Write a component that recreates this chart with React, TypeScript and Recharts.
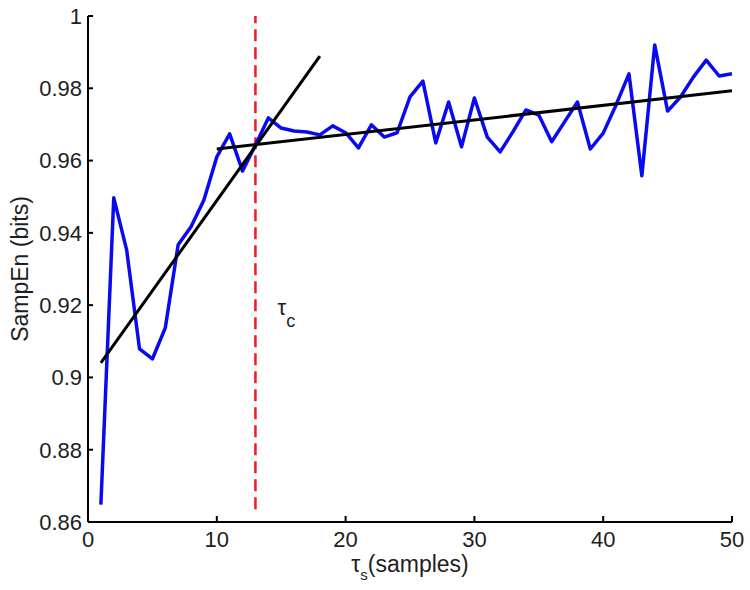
import React from 'react';
import { ComposedChart, Line, XAxis, YAxis, ReferenceLine, Label } from 'recharts';

const lags = [1,2,3,4,5,6,7,8,9,10,11,12,13,14,15,16,17,18,19,20,21,22,23,24,25,26,27,28,29,30,31,32,33,34,35,36,37,38,39,40,41,42,43,44,45,46,47,48,49,50];
const sampEn = [0.8648,0.9497,0.9353,0.9079,0.9051,0.9137,0.9367,0.9417,0.9491,0.9610,0.9674,0.9571,0.9643,0.9718,0.9690,0.9682,0.9679,0.9671,0.9696,0.9677,0.9635,0.9699,0.9665,0.9677,0.9776,0.9820,0.9649,0.9762,0.9638,0.9773,0.9665,0.9624,0.9680,0.9740,0.9726,0.9652,0.9707,0.9762,0.9632,0.9676,0.9754,0.9840,0.9558,0.9920,0.9737,0.9776,0.9831,0.9878,0.9834,0.9840];

const fitShortX = [1, 18];
const fitShortY = [0.9040, 0.9889];
const fitLongX = [10, 50];
const fitLongY = [0.9632, 0.9793];

const tauC = 13;
const dashedRange = [0.8635, 1];

const xTicks = [0, 10, 20, 30, 40, 50];
const yTicks = [0.86, 0.88, 0.9, 0.92, 0.94, 0.96, 0.98, 1];

const mainData = lags.map((t, i) => ({ t, v: sampEn[i] }));
const fitShort = fitShortX.map((t, i) => ({ t, v: fitShortY[i] }));
const fitLong = fitLongX.map((t, i) => ({ t, v: fitLongY[i] }));

const FONT = '"Liberation Sans", Arial, sans-serif';
const TICK_MARGIN = 6;
const TEXT = '#1e1e1e';

const YTick = (props: any) => {
  const { x, y, payload } = props;
  const ax = x + TICK_MARGIN;
  return (
    <g>
      <line x1={ax} x2={ax + 5} y1={y} y2={y} stroke="#000" strokeWidth={2} />
      <text x={x} y={y} dy="0.36em" textAnchor="end" fontSize={22} fontFamily={FONT} fill={TEXT}>
        {String(payload.value)}
      </text>
    </g>
  );
};

const XTick = (props: any) => {
  const { x, y, payload } = props;
  const ay = y - TICK_MARGIN;
  return (
    <g>
      <line x1={x} x2={x} y1={ay} y2={ay - 6} stroke="#000" strokeWidth={2} />
      <text x={x} y={ay + 25} textAnchor="middle" fontSize={22} fontFamily={FONT} fill={TEXT}>
        {String(payload.value)}
      </text>
    </g>
  );
};

const YLabel = (props: any) => {
  const vb = props.viewBox || {};
  const cx = vb.x + 28;
  const cy = vb.y + vb.height / 2;
  return (
    <text x={cx} y={cy} transform={`rotate(-90 ${cx} ${cy})`} textAnchor="middle" fontSize={23} fontFamily={FONT} fill={TEXT}>
      SampEn (bits)
    </text>
  );
};

const XLabel = (props: any) => {
  const vb = props.viewBox || {};
  const cx = vb.x + vb.width / 2;
  const cy = vb.y + 50;
  return (
    <text x={cx} y={cy} textAnchor="middle" fontSize={23} fontFamily={FONT} fill={TEXT}>
      <tspan>τ</tspan>
      <tspan fontSize={15} dy={8}>s</tspan>
      <tspan dy={-8}>(samples)</tspan>
    </text>
  );
};

const TauLabel = (props: any) => {
  const vb = props.viewBox || {};
  const x = vb.x + 22;
  const y = vb.y + 299;
  return (
    <text x={x} y={y} fontSize={22} fontFamily={FONT} fill={TEXT}>
      <tspan>τ</tspan>
      <tspan fontSize={18} dy={12}>c</tspan>
    </text>
  );
};

export default function App() {
  return (
    <div style={{ position: 'absolute', left: 0, top: 0, background: '#fff' }}>
      <ComposedChart width={750} height={590} margin={{ top: 16, right: 18, bottom: 0, left: 0 }}>
        <XAxis
          type="number"
          dataKey="t"
          domain={[0, 50]}
          ticks={xTicks}
          allowDataOverflow
          height={68}
          tickSize={0}
          tickMargin={TICK_MARGIN}
          tickLine={false}
          axisLine={{ stroke: '#000', strokeWidth: 2 }}
          tick={<XTick />}
        >
          <Label content={<XLabel />} />
        </XAxis>
        <YAxis
          type="number"
          domain={[0.86, 1]}
          ticks={yTicks}
          allowDataOverflow
          width={88}
          tickSize={0}
          tickMargin={TICK_MARGIN}
          tickLine={false}
          axisLine={{ stroke: '#000', strokeWidth: 2 }}
          tick={<YTick />}
        >
          <Label content={<YLabel />} />
        </YAxis>
        <ReferenceLine
          segment={[{ x: tauC, y: dashedRange[0] }, { x: tauC, y: dashedRange[1] }]}
          stroke="#ee1c24"
          strokeWidth={2.5}
          strokeDasharray="12 6"
          ifOverflow="visible"
        />
        <ReferenceLine x={tauC} stroke="none" label={<TauLabel />} />
        <Line data={mainData} dataKey="v" stroke="#0a0af0" strokeWidth={3.5} dot={false} isAnimationActive={false} strokeLinejoin="round" />
        <Line data={fitShort} dataKey="v" stroke="#000" strokeWidth={3} dot={false} isAnimationActive={false} />
        <Line data={fitLong} dataKey="v" stroke="#000" strokeWidth={3} dot={false} isAnimationActive={false} />
      </ComposedChart>
    </div>
  );
}
